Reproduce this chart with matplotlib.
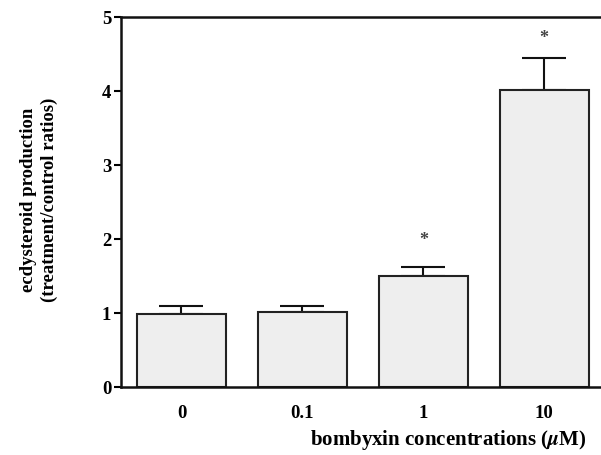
import matplotlib
matplotlib.use("Agg")
import matplotlib.pyplot as plt

categories = ["0", "0.1", "1", "10"]
values = [0.99, 1.02, 1.505, 4.02]
errors_up = [0.10, 0.07, 0.12, 0.43]
significant = [False, False, True, True]
star_y = [None, None, 1.99, 4.72]

plt.rcParams['font.family'] = ['Liberation Serif']
plt.rcParams['mathtext.fontset'] = 'stix'

fig = plt.figure(figsize=(6.01, 4.56), dpi=100)
ax = fig.add_axes([121/601, 68/456, 1 - 121/601, 370/456])

x = list(range(len(categories)))
ax.bar(x, values, width=0.735, color='#eeeeee', edgecolor='#222222', linewidth=1.5, zorder=2)
ax.errorbar(x, values, yerr=[[0]*len(values), errors_up], fmt='none', ecolor='#111111',
            elinewidth=1.5, capsize=15.5, capthick=1.5, zorder=1)
for xi, sig, sy in zip(x, significant, star_y):
    if sig:
        ax.text(xi, sy, '*', ha='center', va='center', fontsize=13, color='#444444',
                fontweight='bold')

ax.set_xlim(-0.5, 3.47)
ax.set_ylim(0, 5)
ax.set_yticks([0, 1, 2, 3, 4, 5])
ax.set_xticks(x)
ax.set_xticklabels(categories)
for lbl in ax.get_xticklabels() + ax.get_yticklabels():
    lbl.set_fontweight('bold')
    lbl.set_fontsize(13.5)
ax.tick_params(axis='x', length=0, pad=12)
ax.tick_params(axis='y', length=5, width=1.5, pad=2)
ax.spines['right'].set_visible(False)
for s in ['left', 'bottom', 'top']:
    ax.spines[s].set_linewidth(1.8)
    ax.spines[s].set_color('#111111')

fig.text(39/601, 1 - 200/456,
         'ecdysteroid production\n(treatment/control ratios)', rotation=90,
         ha='center', va='center', fontsize=13.5, fontweight='bold', linespacing=1.25)
fig.text(448/601, 1 - 440/456, r'bombyxin concentrations ($\boldsymbol{\mu}$M)',
         ha='center', va='center', fontsize=15, fontweight='bold')

fig.savefig('out.png', dpi=100)
